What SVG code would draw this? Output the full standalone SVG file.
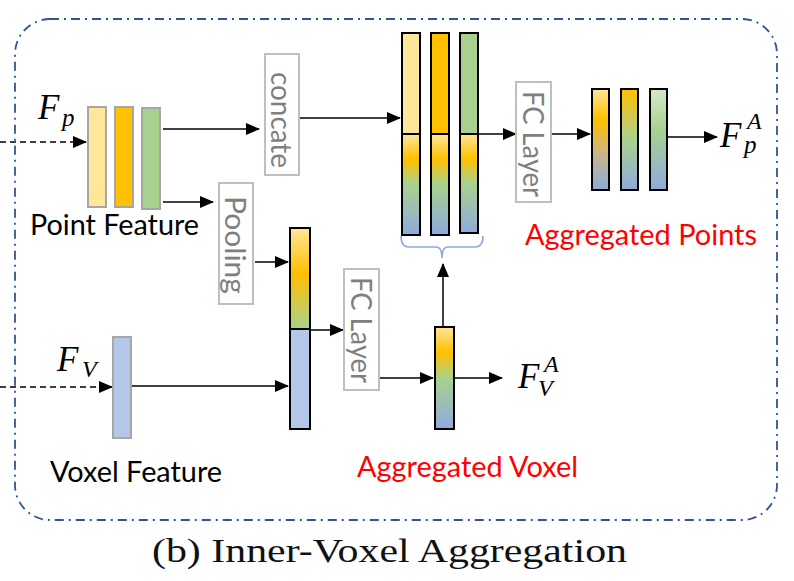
<svg xmlns="http://www.w3.org/2000/svg" width="794" height="581" viewBox="0 0 794 581">
<defs>
<style>
.lbl{font-family:Lato,"Open Sans",sans-serif;font-size:28px;fill:#000}
.red{font-family:Lato,"Open Sans",sans-serif;font-size:28px;fill:#ff0000}
.box{fill:#fff;stroke:#bfbfbf;stroke-width:2}
.boxt{font-family:Lato,"Open Sans",sans-serif;font-size:28px;fill:#7f7f7f}
.math{font-family:"Liberation Serif","Times New Roman",serif;font-style:italic;fill:#000}
.gb{stroke:#a6a6a6;stroke-width:2}
.bk{stroke:#000;stroke-width:2}
.ln{stroke:#000;stroke-width:1.5;fill:none}
</style>
<marker id="ah" markerUnits="userSpaceOnUse" markerWidth="14" markerHeight="12" refX="13" refY="6" orient="auto">
<path d="M0,0 L14,6 L0,12 z" fill="#000"/>
</marker>
<linearGradient id="gMix" x1="0" y1="0" x2="0" y2="1">
<stop offset="0" stop-color="#ffe699"/>
<stop offset="0.25" stop-color="#ffc000"/>
<stop offset="0.5" stop-color="#a9d18e"/>
<stop offset="1" stop-color="#8faadc"/>
</linearGradient>
<linearGradient id="gVox" x1="0" y1="0" x2="0" y2="1">
<stop offset="0" stop-color="#ffe699"/>
<stop offset="0.45" stop-color="#ffc000"/>
<stop offset="1" stop-color="#a9d18e"/>
</linearGradient>
<linearGradient id="gP1" x1="0" y1="0" x2="0" y2="1">
<stop offset="0" stop-color="#ffe699"/>
<stop offset="0.3" stop-color="#ffc000"/>
<stop offset="0.65" stop-color="#c9b48a"/>
<stop offset="1" stop-color="#8faadc"/>
</linearGradient>
<linearGradient id="gP2" x1="0" y1="0" x2="0" y2="1">
<stop offset="0" stop-color="#ffc000"/>
<stop offset="0.5" stop-color="#a9d18e"/>
<stop offset="1" stop-color="#8faadc"/>
</linearGradient>
<linearGradient id="gP3" x1="0" y1="0" x2="0" y2="1">
<stop offset="0" stop-color="#d5e8c8"/>
<stop offset="0.4" stop-color="#a9d18e"/>
<stop offset="1" stop-color="#8faadc"/>
</linearGradient>
</defs>
<rect width="794" height="581" fill="#fff"/>

<g id="frame">
<rect x="15" y="19" width="762" height="501" rx="35" ry="35" fill="none" stroke="#2f5597" stroke-width="1.8" stroke-dasharray="9 5 2 5"/>
</g>

<g id="connectors">
<line x1="0" y1="142" x2="86" y2="142" class="ln" stroke-dasharray="6 4" marker-end="url(#ah)"/>
<line x1="163" y1="129" x2="259" y2="129" class="ln" marker-end="url(#ah)"/>
<line x1="163" y1="202" x2="213" y2="202" class="ln" marker-end="url(#ah)"/>
<line x1="299" y1="118" x2="400" y2="118" class="ln" marker-end="url(#ah)"/>
<line x1="255" y1="262" x2="288" y2="262" class="ln" marker-end="url(#ah)"/>
<line x1="0" y1="387" x2="112" y2="387" class="ln" stroke="#444" stroke-dasharray="6 4" marker-end="url(#ah)"/>
<line x1="132" y1="386" x2="288" y2="386" class="ln" marker-end="url(#ah)"/>
<line x1="310" y1="330" x2="343" y2="330" class="ln" marker-end="url(#ah)"/>
<line x1="380" y1="378" x2="433" y2="378" class="ln" marker-end="url(#ah)"/>
<line x1="454" y1="378" x2="502" y2="378" class="ln" marker-end="url(#ah)"/>
<line x1="443" y1="327" x2="443" y2="264" class="ln" marker-end="url(#ah)"/>
<line x1="479" y1="134" x2="516" y2="134" class="ln" marker-end="url(#ah)"/>
<line x1="552" y1="134" x2="590" y2="134" class="ln" marker-end="url(#ah)"/>
<line x1="668" y1="137" x2="717" y2="137" class="ln" marker-end="url(#ah)"/>
<path d="M401,236 Q401,247 409,247 L436,247 Q442,247 442,258 Q442,247 448,247 L475,247 Q483,247 483,236" fill="none" stroke="#8faadc" stroke-width="1.6"/>
</g>

<g id="point-feature">
<rect x="88" y="107" width="18" height="100" fill="#ffe699" class="gb"/>
<rect x="115" y="107" width="18" height="100" fill="#ffc000" class="gb"/>
<rect x="142" y="108" width="18" height="101" fill="#a9d18e" class="gb"/>
<text x="30" y="235" class="lbl" textLength="169" lengthAdjust="spacingAndGlyphs">Point Feature</text>
<text x="38" y="119" class="math" font-size="35">F</text>
<text x="62" y="126" class="math" font-size="25">p</text>
</g>

<g id="concate">
<rect x="265" y="54" width="34" height="121" class="box"/>
<text transform="translate(282,120) rotate(90)" text-anchor="middle" dominant-baseline="central" class="boxt" textLength="96" lengthAdjust="spacingAndGlyphs">concate</text>
</g>

<g id="pooling">
<rect x="219" y="183" width="34" height="121" class="box"/>
<text transform="translate(236,245) rotate(90)" text-anchor="middle" dominant-baseline="central" class="boxt" textLength="98" lengthAdjust="spacingAndGlyphs">Pooling</text>
</g>

<g id="concat-bars">
<rect x="402" y="33" width="18" height="101" fill="#ffe699" class="bk"/>
<rect x="402" y="134" width="18" height="101" fill="url(#gMix)" class="bk"/>
<rect x="431" y="33" width="18" height="101" fill="#ffc000" class="bk"/>
<rect x="431" y="134" width="18" height="101" fill="url(#gMix)" class="bk"/>
<rect x="460" y="33" width="18" height="101" fill="#a9d18e" class="bk"/>
<rect x="460" y="134" width="18" height="99" fill="url(#gMix)" class="bk"/>
</g>

<g id="fc-layer-top">
<rect x="516" y="82" width="35" height="120" class="box"/>
<text transform="translate(533.5,144) rotate(90)" text-anchor="middle" dominant-baseline="central" class="boxt" textLength="106" lengthAdjust="spacingAndGlyphs">FC Layer</text>
</g>

<g id="aggregated-points">
<rect x="592" y="89" width="17" height="101" fill="url(#gP1)" class="bk"/>
<rect x="621" y="89" width="17" height="101" fill="url(#gP2)" class="bk"/>
<rect x="650" y="89" width="17" height="101" fill="url(#gP3)" class="bk"/>
<text x="525" y="245" class="red" textLength="232" lengthAdjust="spacingAndGlyphs">Aggregated Points</text>
<text x="720" y="147" class="math" font-size="35">F</text>
<text x="747" y="129" class="math" font-size="24">A</text>
<text x="744" y="153" class="math" font-size="25">p</text>
</g>

<g id="voxel-feature">
<rect x="113" y="337" width="18" height="101" fill="#b4c7e7" class="gb"/>
<text x="50" y="482" class="lbl" textLength="172" lengthAdjust="spacingAndGlyphs">Voxel Feature</text>
<text x="57" y="371" class="math" font-size="35">F</text>
<text x="82" y="377" class="math" font-size="24">V</text>
</g>

<g id="voxel-concat">
<rect x="290" y="228" width="20" height="101" fill="url(#gVox)" class="bk"/>
<rect x="290" y="329" width="20" height="100" fill="#b4c7e7" class="bk"/>
</g>

<g id="fc-layer-bottom">
<rect x="344" y="269" width="35" height="121" class="box"/>
<text transform="translate(361.5,330) rotate(90)" text-anchor="middle" dominant-baseline="central" class="boxt" textLength="106" lengthAdjust="spacingAndGlyphs">FC Layer</text>
</g>

<g id="aggregated-voxel">
<rect x="435" y="327" width="19" height="102" fill="url(#gMix)" class="bk"/>
<text x="357" y="477" class="red" textLength="221" lengthAdjust="spacingAndGlyphs">Aggregated Voxel</text>
<text x="518" y="388" class="math" font-size="35">F</text>
<text x="544" y="372" class="math" font-size="24">A</text>
<text x="538" y="396" class="math" font-size="24">V</text>
</g>

<g id="caption">
<text x="152" y="562" font-family="'Liberation Serif','Times New Roman',serif" font-size="33" fill="#111" textLength="475" lengthAdjust="spacingAndGlyphs">(b) Inner-Voxel Aggregation</text>
</g>
</svg>
